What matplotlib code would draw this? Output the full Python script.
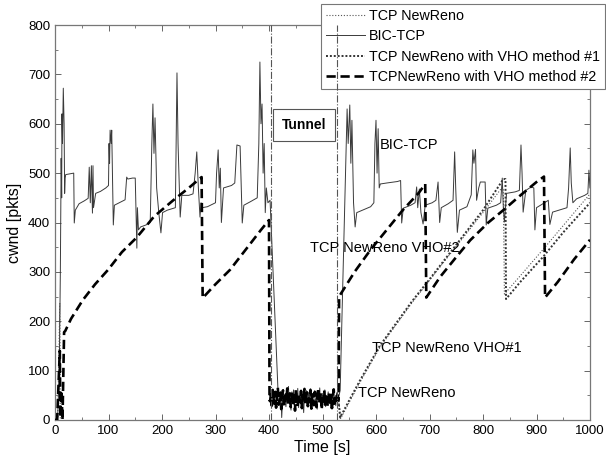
import numpy as np
import matplotlib
matplotlib.use('Agg')
import matplotlib.pyplot as plt
from matplotlib.ticker import MultipleLocator
from matplotlib.lines import Line2D

plt.rcParams['font.family'] = ['Liberation Sans', 'DejaVu Sans']

# ---------------- data ----------------
# BIC-TCP before the tunnel
bic_pre_t = [0, 5, 8, 10, 11.5, 12.5, 13, 14, 15.5, 17, 18, 19, 20, 30, 35, 36, 38, 45, 55, 62,
             64, 66, 68, 70, 71, 72, 76, 85, 95, 100, 101, 102, 103, 105, 106, 108, 109, 111, 120, 131,
             134, 136, 145, 150, 153, 154, 156, 160, 170, 178, 181, 183, 185, 187, 190, 194, 198, 201, 210, 225,
             228, 230, 234, 237, 250, 258, 262, 265, 268, 271, 273, 275, 285, 300, 302, 305, 307, 309, 311, 315,
             330, 336, 338, 340, 346, 350, 353, 365, 378, 381, 383, 385, 387, 389, 391, 393, 395, 398, 402, 417]
bic_pre_y = [0, 5, 100, 300, 530, 450, 620, 560, 672, 600, 459, 490, 497, 499, 500, 399, 425, 438, 444, 449,
             512, 440, 515, 419, 515, 430, 459, 463, 470, 475, 560, 520, 587, 560, 587, 460, 395, 435, 440, 446,
             492, 488, 490, 490, 348, 430, 385, 391, 395, 400, 560, 640, 540, 612, 470, 420, 379, 420, 425, 430,
             703, 560, 411, 455, 455, 458, 500, 543, 470, 411, 440, 430, 432, 440, 500, 547, 470, 510, 400, 470,
             475, 480, 520, 557, 555, 399, 435, 442, 450, 560, 725, 600, 640, 500, 560, 420, 470, 440, 445, 55]

# BIC-TCP inside the tunnel (hand read noise)
bic_noise = [45, 30, 58, 5, 40, 62, 35, 50, 27, 55, 42, 68, 33, 48, 20, 57, 39, 61, 29, 46,
             53, 36, 64, 25, 49, 41, 58, 31, 44, 15, 52, 38, 60, 28, 47, 55, 34, 63, 40, 26,
             51, 45, 59, 32, 43, 22, 56, 37, 65, 30, 48, 54, 35, 42, 61, 27, 50, 39, 57, 33,
             46, 24, 53, 44, 60, 36, 49, 29, 55, 41]

# BIC-TCP after the tunnel
bic_post_t = [530, 533, 546, 548, 551, 553, 555, 558, 561, 564, 575, 590, 596, 598, 600, 602, 604, 606, 608, 620,
              640, 646, 648, 651, 665, 673, 676, 678, 681, 684, 688, 692, 705, 712, 716, 719, 722, 735, 744, 747,
              749, 752, 756, 770, 778, 781, 783, 786, 788, 792, 795, 804, 806, 809, 825, 833, 836, 838, 840, 844,
              860, 868, 871, 873, 875, 880, 890, 895, 897, 900, 915, 922, 925, 930, 945, 957, 960, 963, 965, 968,
              975, 990, 996, 998, 1000]
bic_post_y = [45, 60, 630, 560, 638, 520, 607, 440, 391, 420, 425, 432, 440, 560, 607, 500, 590, 470, 478, 480,
              483, 485, 399, 429, 435, 440, 472, 430, 468, 420, 397, 435, 440, 445, 482, 400, 430, 438, 445, 543,
              470, 380, 425, 432, 456, 547, 520, 548, 445, 470, 482, 482, 395, 429, 435, 440, 490, 430, 401, 459,
              462, 465, 557, 500, 421, 465, 472, 470, 385, 430, 440, 445, 396, 421, 426, 430, 470, 551, 480, 440,
              448, 455, 459, 506, 470]

# TCP NewReno (common to all three variants) before the tunnel
nr_pre_t = [0, 4, 9, 10, 12, 14, 17, 19, 30, 52, 75, 99, 125, 153, 185,
            221, 250, 274, 276, 300, 327, 360, 385, 400, 401]
nr_pre_y = [0, 0, 140, 5, 60, 0, 178, 180, 205, 243, 275, 304, 340, 370, 412,
            445, 470, 492, 247, 275, 304, 350, 385, 405, 40]
# slow-start trace of the plain NewReno run
nr_ss_t = [0, 5, 9, 10]
nr_ss_y = [0, 0, 237, 0]

# TCP NewReno inside the tunnel (hand read noise)
nr_noise = [38, 52, 29, 61, 44, 33, 57, 25, 48, 66, 31, 42, 55, 22, 47, 60, 35, 28, 51, 43,
            64, 30, 46, 54, 26, 39, 58, 34, 49, 19, 62, 41, 27, 53, 45, 36, 59, 24, 50, 40,
            63, 32, 47, 56, 28, 44, 37, 61, 23, 52, 45, 30, 57, 41, 26, 49, 65, 34, 43, 55,
            21, 48, 38, 60, 31, 46, 53, 27, 42, 58, 35, 50, 24, 44, 62, 33, 47, 39, 56, 42]

# after the tunnel
nr_post_t = [530, 534, 552, 572, 609, 669, 750, 800, 835, 838, 840, 912, 1000]
nr_post_y = [40, 3, 40, 80, 150, 240, 352, 420, 470, 470, 255, 345, 458]

vho1_post_t = [530, 533, 550, 570, 607, 667, 700, 750, 800, 838, 842, 843, 870, 912, 950, 1000]
vho1_post_y = [40, 5, 40, 80, 150, 240, 285, 355, 425, 488, 488, 245, 280, 330, 380, 440]

vho2_post_t = [530, 531, 560, 590, 620, 650, 680, 692, 694, 720, 750, 776, 810, 838, 870, 900, 914, 916,
               940, 970, 1000]
vho2_post_y = [40, 250, 300, 345, 385, 425, 460, 478, 248, 290, 330, 364, 400, 425, 455, 482, 493, 248,
               280, 325, 365]

tunnel_start = 403
tunnel_end = 528

labels = ['TCP NewReno', 'BIC-TCP', 'TCP NewReno with VHO method #1', 'TCPNewReno with VHO method #2']

# ---------------- assemble series ----------------
bic_noise_t = np.linspace(419, 528, len(bic_noise))
nr_noise_t = np.linspace(402, 529, len(nr_noise))

bic_t = np.concatenate([bic_pre_t, bic_noise_t, bic_post_t])
bic_y = np.concatenate([bic_pre_y, bic_noise, bic_post_y])

v2_t = np.concatenate([nr_pre_t, nr_noise_t, vho2_post_t])
v2_y = np.concatenate([nr_pre_y, nr_noise, vho2_post_y])

# ---------------- figure ----------------
W, H = 606, 463
fig = plt.figure(figsize=(W / 100, H / 100), dpi=100)
ax = fig.add_axes([55 / W, 43 / H, 535 / W, 395 / H])

st_nr = dict(color='#555555', lw=0.8, ls=(0, (1, 1.6)))
st_bic = dict(color='#3a3a3a', lw=0.7, ls='-')
st_v1 = dict(color='#333333', lw=1.4, ls=(0, (1, 1)))
st_v2 = dict(color='black', lw=1.9, ls=(0, (3.5, 1.8)))

ax.plot(nr_ss_t, nr_ss_y, **st_nr, zorder=2)
ax.plot(nr_post_t, nr_post_y, **st_nr, zorder=2)
ax.plot(vho1_post_t, vho1_post_y, **st_v1, zorder=2)
ax.plot(bic_t, bic_y, **st_bic, zorder=3)
ax.plot(v2_t, v2_y, **st_v2, zorder=4)

for xv in (tunnel_start, tunnel_end):
    ax.axvline(xv, color='#555555', lw=0.8, ls='-.', zorder=6)

ax.set_xlim(0, 1000)
ax.set_ylim(0, 800)
ax.xaxis.set_major_locator(MultipleLocator(100))
ax.xaxis.set_minor_locator(MultipleLocator(50))
ax.yaxis.set_major_locator(MultipleLocator(100))
ax.yaxis.set_minor_locator(MultipleLocator(50))
ax.tick_params(which='both', direction='in', top=True, right=True, colors='#666666',
               labelcolor='black', labelsize=9.5)
ax.tick_params(which='major', length=4, width=0.7)
ax.tick_params(which='minor', length=2, width=0.6)
for s in ax.spines.values():
    s.set_color('#777777')
    s.set_linewidth(0.9)

ax.set_xlabel('Time [s]', fontsize=11.5, labelpad=2)
ax.set_ylabel('cwnd [pkts]', fontsize=11.5, labelpad=4)

# annotations
ax.text((tunnel_start + tunnel_end) / 2, 598, 'Tunnel', fontsize=10, fontweight='bold',
        ha='center', va='center',
        bbox=dict(boxstyle='square,pad=0.65', fc='white', ec='#555555', lw=0.8), zorder=7)
ax.text(607, 557, 'BIC-TCP', fontsize=10.5, ha='left', va='center', zorder=7)
ax.text(477, 348, 'TCP NewReno VHO#2', fontsize=10.5, ha='left', va='center', zorder=7)
ax.text(592, 146, 'TCP NewReno VHO#1', fontsize=10.5, ha='left', va='center', zorder=7)
ax.text(566, 55, 'TCP NewReno', fontsize=10.5, ha='left', va='center', zorder=7)

handles = [Line2D([], [], **st_nr), Line2D([], [], **st_bic),
           Line2D([], [], **st_v1), Line2D([], [], **st_v2)]
leg = ax.legend(handles, labels, loc='upper right', bbox_to_anchor=(605 / W, 1 - 4 / H),
                bbox_transform=fig.transFigure, borderaxespad=0, fancybox=False, framealpha=1,
                edgecolor='#777777', fontsize=10.3, handlelength=2.7, handletextpad=0.3,
                labelspacing=0.45, borderpad=0.35)
leg.get_frame().set_linewidth(0.8)
leg.set_zorder(5)

fig.savefig('out.png', dpi=100)
